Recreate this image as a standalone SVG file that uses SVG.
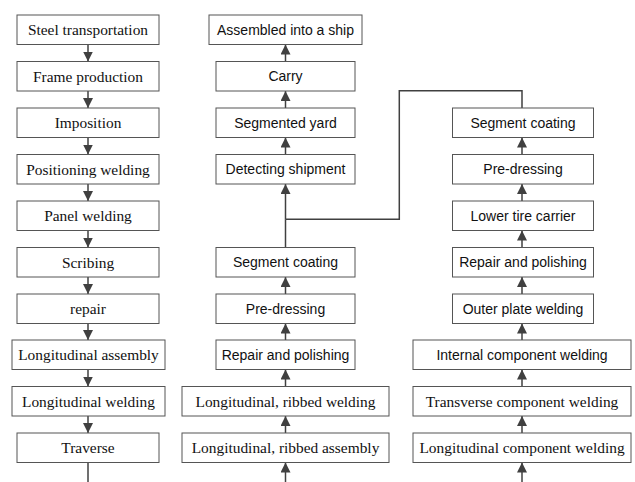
<svg xmlns="http://www.w3.org/2000/svg" width="635" height="482" viewBox="0 0 635 482">
<style>
.b{fill:#fff;stroke:#555;stroke-width:1}
.s{font-family:"Liberation Serif",serif;font-size:15.4px;fill:#111;text-anchor:middle}
.a{font-family:"Liberation Sans",sans-serif;font-size:14px;fill:#111;text-anchor:middle}
.c{fill:none;stroke:#404040;stroke-width:1.5}
</style>
<defs>
<marker id="ah" markerUnits="userSpaceOnUse" markerWidth="10" markerHeight="10" refX="10" refY="5" orient="auto" viewBox="0 0 10 10">
<path d="M0,0 L10,5 L0,10 z" fill="#404040"/>
</marker>
</defs>
<g id="connectors">
<path class="c" d="M88,44.5 V61.5" marker-end="url(#ah)"/>
<path class="c" d="M88,91 V108" marker-end="url(#ah)"/>
<path class="c" d="M88,137.5 V154.5" marker-end="url(#ah)"/>
<path class="c" d="M88,184 V201" marker-end="url(#ah)"/>
<path class="c" d="M88,230.5 V247.5" marker-end="url(#ah)"/>
<path class="c" d="M88,277 V294" marker-end="url(#ah)"/>
<path class="c" d="M88,323.5 V340" marker-end="url(#ah)"/>
<path class="c" d="M88,369.5 V386.5" marker-end="url(#ah)"/>
<path class="c" d="M88,416 V433" marker-end="url(#ah)"/>
<path class="c" d="M88,462.5 V482"/>
<path class="c" d="M285.5,482 V462.5" marker-end="url(#ah)"/>
<path class="c" d="M285.5,433 V416" marker-end="url(#ah)"/>
<path class="c" d="M285.5,386.5 V369.5" marker-end="url(#ah)"/>
<path class="c" d="M285.5,340 V323.5" marker-end="url(#ah)"/>
<path class="c" d="M285.5,294 V277" marker-end="url(#ah)"/>
<path class="c" d="M285.5,247.5 V219.3"/>
<path class="c" d="M285.5,219.3 V184" marker-end="url(#ah)"/>
<path class="c" d="M285.5,154.5 V137.5" marker-end="url(#ah)"/>
<path class="c" d="M285.5,108 V91" marker-end="url(#ah)"/>
<path class="c" d="M285.5,61.5 V44.5" marker-end="url(#ah)"/>
<path class="c" d="M522,108 V90.7 H399.3 V219.3 H285.5"/>
<path class="c" d="M522,482 V462.5" marker-end="url(#ah)"/>
<path class="c" d="M522,433 V416" marker-end="url(#ah)"/>
<path class="c" d="M522,386.5 V369.5" marker-end="url(#ah)"/>
<path class="c" d="M522,340 V323.5" marker-end="url(#ah)"/>
<path class="c" d="M522,294 V277" marker-end="url(#ah)"/>
<path class="c" d="M522,247.5 V230.5" marker-end="url(#ah)"/>
<path class="c" d="M522,201 V184" marker-end="url(#ah)"/>
<path class="c" d="M522,154.5 V137.5" marker-end="url(#ah)"/>
</g>
<g id="n1"><rect class="b" x="17" y="15" width="142" height="29.5"/><text class="s" x="88" y="35">Steel transportation</text></g>
<g id="n2"><rect class="b" x="17" y="61.5" width="142" height="29.5"/><text class="s" x="88" y="81.5">Frame production</text></g>
<g id="n3"><rect class="b" x="17" y="108" width="142" height="29.5"/><text class="s" x="88" y="128">Imposition</text></g>
<g id="n4"><rect class="b" x="17" y="154.5" width="142" height="29.5"/><text class="s" x="88" y="174.5">Positioning welding</text></g>
<g id="n5"><rect class="b" x="17" y="201" width="142" height="29.5"/><text class="s" x="88" y="221">Panel welding</text></g>
<g id="n6"><rect class="b" x="17" y="247.5" width="142" height="29.5"/><text class="s" x="88" y="267.5">Scribing</text></g>
<g id="n7"><rect class="b" x="17" y="294" width="142" height="29.5"/><text class="s" x="88" y="314">repair</text></g>
<g id="n8"><rect class="b" x="12" y="340" width="153" height="29.5"/><text class="s" x="88.5" y="360">Longitudinal assembly</text></g>
<g id="n9"><rect class="b" x="12" y="386.5" width="153" height="29.5"/><text class="s" x="88.5" y="406.5">Longitudinal welding</text></g>
<g id="n10"><rect class="b" x="17" y="433" width="142" height="29.5"/><text class="s" x="88" y="453">Traverse</text></g>
<g id="m1"><rect class="b" x="209" y="15" width="153" height="29.5"/><text class="a" x="285.5" y="34.5">Assembled into a ship</text></g>
<g id="m2"><rect class="b" x="216" y="61.5" width="139" height="29.5"/><text class="a" x="285.5" y="81">Carry</text></g>
<g id="m3"><rect class="b" x="216" y="108" width="139" height="29.5"/><text class="a" x="285.5" y="127.5">Segmented yard</text></g>
<g id="m4"><rect class="b" x="216" y="154.5" width="139" height="29.5"/><text class="a" x="285.5" y="174">Detecting shipment</text></g>
<g id="m5"><rect class="b" x="216" y="247.5" width="139" height="29.5"/><text class="a" x="285.5" y="267">Segment coating</text></g>
<g id="m6"><rect class="b" x="216" y="294" width="139" height="29.5"/><text class="a" x="285.5" y="313.5">Pre-dressing</text></g>
<g id="m7"><rect class="b" x="216" y="340" width="139" height="29.5"/><text class="a" x="285.5" y="359.5">Repair and polishing</text></g>
<g id="m8"><rect class="b" x="182" y="386.5" width="207" height="29.5"/><text class="s" x="285.5" y="406.5">Longitudinal, ribbed welding</text></g>
<g id="m9"><rect class="b" x="182" y="433" width="207" height="29.5"/><text class="s" x="285.5" y="453">Longitudinal, ribbed assembly</text></g>
<g id="r1"><rect class="b" x="452.5" y="108" width="141" height="29.5"/><text class="a" x="523" y="127.5">Segment coating</text></g>
<g id="r2"><rect class="b" x="452.5" y="154.5" width="141" height="29.5"/><text class="a" x="523" y="174">Pre-dressing</text></g>
<g id="r3"><rect class="b" x="452.5" y="201" width="141" height="29.5"/><text class="a" x="523" y="220.5">Lower tire carrier</text></g>
<g id="r4"><rect class="b" x="452.5" y="247.5" width="141" height="29.5"/><text class="a" x="523" y="267">Repair and polishing</text></g>
<g id="r5"><rect class="b" x="452.5" y="294" width="141" height="29.5"/><text class="a" x="523" y="313.5">Outer plate welding</text></g>
<g id="r6"><rect class="b" x="413" y="340" width="218" height="29.5"/><text class="a" x="522" y="359.5">Internal component welding</text></g>
<g id="r7"><rect class="b" x="413" y="386.5" width="218" height="29.5"/><text class="s" x="522" y="406.5">Transverse component welding</text></g>
<g id="r8"><rect class="b" x="413" y="433" width="218" height="29.5"/><text class="s" x="522" y="453">Longitudinal component welding</text></g>
</svg>
